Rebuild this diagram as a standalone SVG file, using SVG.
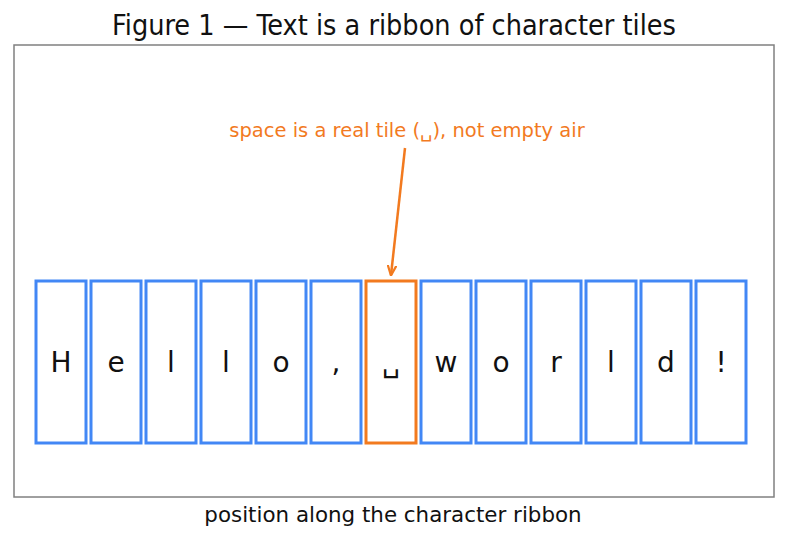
<svg xmlns="http://www.w3.org/2000/svg" width="787" height="540" viewBox="0 0 787 540">
<defs>
<style>
.tile{fill:#ffffff;stroke:#4287f5;stroke-width:3}
.hl{fill:#ffffff;stroke:#f27a1f;stroke-width:3}
.ch{font-family:"DejaVu Sans",sans-serif;font-size:28px;fill:#111;text-anchor:middle}
.title{font-family:"DejaVu Sans Condensed","DejaVu Sans",sans-serif;font-stretch:condensed;font-size:28.5px;fill:#111;text-anchor:middle}
.note{font-family:"DejaVu Sans",sans-serif;font-size:19.5px;fill:#f27a1f;text-anchor:middle}
.xl{font-family:"DejaVu Sans",sans-serif;font-size:21.4px;fill:#111;text-anchor:middle}
</style>
<marker id="ah" viewBox="0 0 10 10" refX="9" refY="5" markerWidth="11" markerHeight="11" orient="auto" markerUnits="userSpaceOnUse">
<path d="M0,1 L9.5,5 L0,9" fill="none" stroke="#f27a1f" stroke-width="2" stroke-linejoin="miter"/>
</marker>
</defs>
<rect width="787" height="540" fill="#ffffff"/>
<text class="title" x="394" y="35">Figure 1 — Text is a ribbon of character tiles</text>
<rect x="14" y="45" width="760" height="452" fill="none" stroke="#808080" stroke-width="1.5"/>
<g id="t0"><rect class="tile" x="36" y="281" width="50" height="162"/><text class="ch" x="61" y="372">H</text></g>
<g id="t1"><rect class="tile" x="91" y="281" width="50" height="162"/><text class="ch" x="116" y="372">e</text></g>
<g id="t2"><rect class="tile" x="146" y="281" width="50" height="162"/><text class="ch" x="171" y="372">l</text></g>
<g id="t3"><rect class="tile" x="201" y="281" width="50" height="162"/><text class="ch" x="226" y="372">l</text></g>
<g id="t4"><rect class="tile" x="256" y="281" width="50" height="162"/><text class="ch" x="281" y="372">o</text></g>
<g id="t5"><rect class="tile" x="311" y="281" width="50" height="162"/><text class="ch" x="336" y="372">,</text></g>
<g id="t6"><rect class="hl" x="366" y="281" width="50" height="162"/><text class="ch" x="391" y="372">␣</text></g>
<g id="t7"><rect class="tile" x="421" y="281" width="50" height="162"/><text class="ch" x="446" y="372">w</text></g>
<g id="t8"><rect class="tile" x="476" y="281" width="50" height="162"/><text class="ch" x="501" y="372">o</text></g>
<g id="t9"><rect class="tile" x="531" y="281" width="50" height="162"/><text class="ch" x="556" y="372">r</text></g>
<g id="t10"><rect class="tile" x="586" y="281" width="50" height="162"/><text class="ch" x="611" y="372">l</text></g>
<g id="t11"><rect class="tile" x="641" y="281" width="50" height="162"/><text class="ch" x="666" y="372">d</text></g>
<g id="t12"><rect class="tile" x="696" y="281" width="50" height="162"/><text class="ch" x="721" y="372">!</text></g>
<g id="note"><text class="note" x="407" y="137">space is a real tile (␣), not empty air</text></g>
<g id="connectors"><line x1="405" y1="148" x2="391" y2="275" stroke="#f27a1f" stroke-width="2.5" marker-end="url(#ah)"/></g>
<text class="xl" x="393" y="522">position along the character ribbon</text>
</svg>
